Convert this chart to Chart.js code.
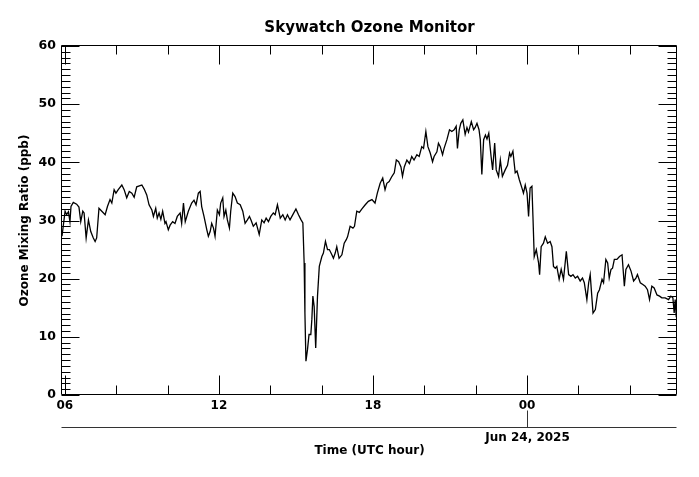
<!DOCTYPE html>
<html><head><meta charset="utf-8">
<script src="https://cdn.jsdelivr.net/npm/chart.js@4"></script>
<style>html,body{margin:0;padding:0;background:#fff}#wrap{width:699px;height:477px}</style>
</head><body><div id="wrap"><canvas id="c" width="699" height="477"></canvas></div>
<script>
const chartTitle = "Skywatch Ozone Monitor";
const xAxisTitle = "Time (UTC hour)";
const yAxisTitle = "Ozone Mixing Ratio (ppb)";
const dateLabel = "Jun 24, 2025";
const dateTickHour = 24;
const xRange = [5.89, 29.84];
const xMajorTicks = [6, 12, 18, 24];
const xMinorTicks = [8, 10, 14, 16, 20, 22, 26, 28];
const xTickLabels = ["06", "12", "18", "00"];
const yMajorTicks = [0, 10, 20, 30, 40, 50, 60];

// hours since 00:00 UTC Jun 23, 2025
const timeHours = [
5.89,6.01,6.07,6.14,6.20,6.24,6.33,6.46,6.55,6.62,6.70,6.75,6.83,6.92,7.01,7.11,7.18,7.24,7.33,7.44,
7.57,7.66,7.76,7.83,7.92,7.99,8.08,8.22,8.31,8.41,8.51,8.61,8.70,8.80,8.93,9.00,9.09,9.19,9.28,9.39,
9.45,9.54,9.60,9.67,9.74,9.81,9.90,9.94,10.03,10.10,10.20,10.29,10.38,10.49,10.55,10.62,10.69,10.81,10.94,11.03,
11.11,11.20,11.27,11.33,11.42,11.53,11.59,11.66,11.72,11.79,11.85,11.94,12.02,12.07,12.15,12.20,12.27,12.33,12.41,12.46,
12.54,12.63,12.72,12.83,12.93,13.02,13.11,13.19,13.25,13.34,13.45,13.57,13.67,13.76,13.84,13.93,14.02,14.12,14.19,14.28,
14.39,14.49,14.58,14.67,14.77,14.88,15.00,15.10,15.19,15.27,15.32,15.35,15.39,15.45,15.51,15.58,15.62,15.66,15.71,15.77,
15.84,15.91,16.01,16.07,16.15,16.23,16.30,16.40,16.46,16.53,16.59,16.68,16.79,16.88,16.96,17.01,17.11,17.22,17.28,17.37,
17.47,17.57,17.70,17.82,17.96,18.08,18.17,18.28,18.38,18.47,18.54,18.63,18.74,18.83,18.91,19.00,19.09,19.15,19.22,19.32,
19.42,19.51,19.60,19.71,19.80,19.90,19.97,20.06,20.14,20.23,20.32,20.38,20.49,20.55,20.62,20.71,20.77,20.88,20.98,21.07,
21.16,21.24,21.29,21.36,21.42,21.50,21.59,21.66,21.72,21.83,21.92,21.98,22.05,22.13,22.18,22.24,22.31,22.38,22.44,22.51,
22.60,22.66,22.74,22.80,22.89,22.96,23.04,23.15,23.24,23.32,23.37,23.45,23.54,23.61,23.70,23.80,23.86,23.93,24.00,24.06,
24.12,24.19,24.23,24.28,24.36,24.45,24.49,24.55,24.64,24.71,24.80,24.90,24.97,25.03,25.10,25.16,25.25,25.33,25.42,25.53,
25.62,25.71,25.79,25.88,25.97,26.07,26.16,26.23,26.33,26.40,26.46,26.57,26.66,26.75,26.82,26.92,26.98,27.07,27.14,27.20,
27.27,27.33,27.40,27.50,27.60,27.70,27.79,27.85,27.95,28.05,28.15,28.24,28.30,28.41,28.51,28.60,28.69,28.77,28.86,28.95,
29.06,29.16,29.25,29.38,29.51,29.60,29.68,29.73,29.77,29.81,29.83
];
const ozonePpb = [
27.3,31.6,31.0,31.5,29.8,32.4,33.1,32.8,32.3,29.8,31.6,31.3,27.0,30.1,28.1,27.0,26.4,27.0,32.1,31.6,
31.0,32.4,33.6,33.0,35.3,34.7,35.3,36.1,35.3,33.9,35.0,34.7,34.0,35.8,36.0,36.1,35.4,34.4,32.7,31.8,
30.7,32.1,30.4,31.3,30.2,31.6,29.5,29.8,28.4,29.2,29.8,29.5,30.7,31.3,29.5,33.0,29.8,31.6,33.0,33.5,
32.7,34.7,35.0,32.4,30.7,28.4,27.3,28.1,29.5,28.7,27.3,31.8,31.0,33.0,33.9,30.7,31.8,30.1,28.7,31.6,
34.7,34.1,33.0,32.7,31.6,29.5,30.1,30.7,30.1,29.0,29.6,27.6,30.1,29.6,30.4,29.8,30.7,31.3,31.0,32.7,
30.4,31.0,30.1,31.0,30.1,31.0,32.0,31.0,30.2,29.6,22.7,14.1,5.8,7.8,10.4,10.4,13.0,17.0,15.2,8.1,
17.0,22.1,23.8,24.4,26.4,25.0,25.0,24.1,23.5,24.4,25.5,23.5,24.1,26.1,26.7,27.2,29.0,28.7,29.0,31.6,
31.4,32.0,32.7,33.3,33.6,33.0,34.7,36.4,37.3,35.3,36.4,36.7,37.6,38.2,40.4,40.1,39.2,37.6,39.2,40.4,
39.8,41.0,40.4,41.3,41.0,42.7,42.4,45.3,42.7,41.6,40.1,41.0,41.8,43.3,42.7,41.3,42.4,43.9,45.6,45.3,
45.6,46.2,42.4,45.6,46.7,47.3,44.8,46.0,45.2,47.0,45.6,46.0,46.7,45.6,43.9,37.9,43.9,44.7,44.0,45.0,
41.0,38.7,43.3,38.7,37.6,40.4,37.6,38.7,39.5,41.6,41.0,41.9,38.2,38.5,37.0,35.6,34.7,36.1,34.7,30.7,
35.6,35.9,30.7,23.8,25.0,22.7,20.7,25.5,26.1,27.2,26.1,26.4,25.5,22.1,21.8,22.1,19.9,21.6,19.9,24.7,
20.7,20.4,20.7,20.1,20.4,19.6,20.1,19.3,16.4,19.3,20.7,14.1,14.7,17.5,18.1,19.9,19.3,23.3,22.7,20.1,
21.6,21.8,23.3,23.3,23.8,24.1,18.7,21.6,22.4,21.3,19.6,20.1,20.7,19.3,19.0,18.7,18.1,16.4,18.7,18.4,
17.2,17.0,16.7,16.7,16.4,17.0,16.7,14.1,16.4,13.5,15.2
];

Chart.defaults.font.family = "'DejaVu Sans', sans-serif";
Chart.defaults.color = "#000";

function crisp(v) { return Math.round(v) + 0.5; }

const frameTicks = {
  id: "frameTicks",
  afterDraw(chart) {
    const ctx = chart.ctx, a = chart.chartArea;
    const xs = chart.scales.x, ys = chart.scales.y;
    ctx.save();
    ctx.strokeStyle = "#000";
    ctx.lineWidth = 1;
    const L = crisp(a.left) - 1, R = crisp(a.right) - 1, T = crisp(a.top) - 1, B = crisp(a.bottom) - 1;
    ctx.beginPath();
    ctx.rect(L, T, R - L, B - T);
    xMajorTicks.forEach(v => {
      const p = crisp(xs.getPixelForValue(v));
      ctx.moveTo(p, B); ctx.lineTo(p, B - 19);
      ctx.moveTo(p, T); ctx.lineTo(p, T + 19);
    });
    xMinorTicks.forEach(v => {
      const p = crisp(xs.getPixelForValue(v));
      ctx.moveTo(p, B); ctx.lineTo(p, B - 9);
      ctx.moveTo(p, T); ctx.lineTo(p, T + 9);
    });
    for (let v = 0; v <= 60; v++) {
      const p = crisp(ys.getPixelForValue(v));
      const len = (v % 10 === 0) ? 18 : 9;
      ctx.moveTo(L, p); ctx.lineTo(L + len, p);
      ctx.moveTo(R, p); ctx.lineTo(R - len, p);
    }
    ctx.stroke();
    const dy = 427.5;
    ctx.beginPath();
    ctx.moveTo(L, dy); ctx.lineTo(R, dy);
    const dp = crisp(xs.getPixelForValue(dateTickHour));
    ctx.moveTo(dp, dy); ctx.lineTo(dp, dy - 17);
    ctx.strokeStyle = "#333";
    ctx.stroke();
    ctx.fillStyle = "#000";
    ctx.font = "bold 12px 'DejaVu Sans'";
    ctx.textAlign = "center";
    ctx.textBaseline = "middle";
    ctx.fillText(dateLabel, dp, 437.5);
    ctx.restore();
  }
};

new Chart(document.getElementById("c"), {
  type: "line",
  data: {
    datasets: [{
      data: timeHours.map((t, i) => ({ x: t, y: ozonePpb[i] })),
      borderColor: "#000",
      borderWidth: 1.3,
      pointRadius: 0,
      tension: 0,
      fill: false
    }]
  },
  options: {
    responsive: false,
    animation: false,
    devicePixelRatio: 1,
    layout: { padding: { left: 0, right: 22, top: 0, bottom: 0 } },
    plugins: {
      legend: { display: false },
      tooltip: { enabled: false },
      title: {
        display: true, text: chartTitle, fullSize: false,
        font: { size: 15, weight: "bold" }, color: "#000",
        padding: { top: 19, bottom: 9 }
      }
    },
    scales: {
      x: {
        type: "linear", min: xRange[0], max: xRange[1],
        afterBuildTicks: s => { s.ticks = xMajorTicks.map(v => ({ value: v })); },
        afterFit: s => { s.height = 82; },
        grid: { display: false, drawTicks: false },
        border: { display: false },
        ticks: {
          autoSkip: false, maxRotation: 0, padding: 4,
          font: { size: 12, weight: "bold" }, color: "#000",
          callback: (v, i) => xTickLabels[i]
        },
        title: {
          display: true, text: xAxisTitle,
          font: { size: 12, weight: "bold" }, color: "#000",
          padding: { top: 0, bottom: 19 }
        }
      },
      y: {
        min: 0, max: 60,
        afterBuildTicks: s => { s.ticks = yMajorTicks.map(v => ({ value: v })); },
        afterFit: s => { s.width = 62; },
        grid: { display: false, drawTicks: false },
        border: { display: false },
        ticks: { padding: 6, font: { size: 12.5, weight: "bold" }, color: "#000" },
        title: {
          display: true, text: yAxisTitle,
          font: { size: 12, weight: "bold" }, color: "#000",
          padding: { top: 18, bottom: 0 }
        }
      }
    }
  },
  plugins: [frameTicks]
});
</script></body></html>
